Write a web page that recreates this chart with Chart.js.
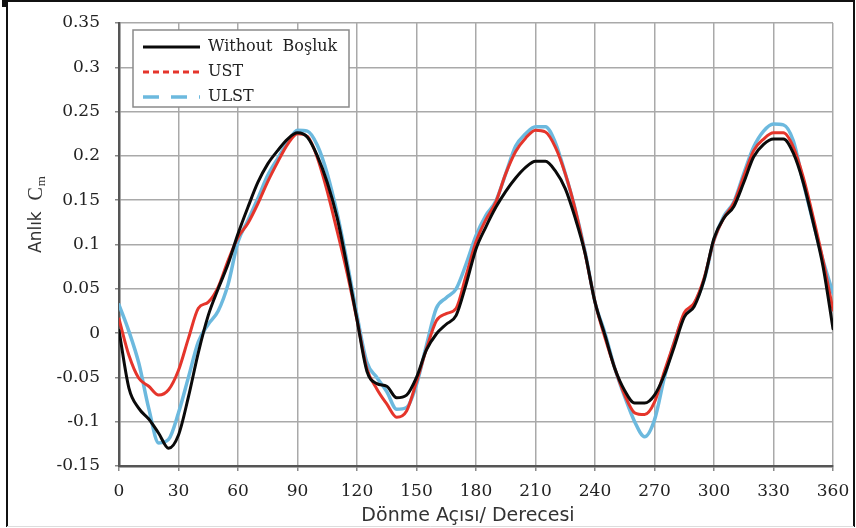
<!DOCTYPE html>
<html>
<head>
<meta charset="utf-8">
<script src="https://cdn.jsdelivr.net/npm/chart.js@4/dist/chart.umd.min.js"></script>
<style>
html,body{margin:0;padding:0;background:#fff;}
#wrap{position:relative;width:856px;height:528px;}
</style>
</head>
<body>
<div id="wrap"><canvas id="c" width="856" height="528"></canvas></div>
<script>
const angles = [0,5,10,15,20,25,30,35,40,45,50,55,60,65,70,75,80,85,90,95,100,105,110,115,120,125,130,135,140,145,150,155,160,165,170,175,180,185,190,195,200,205,210,215,220,225,230,235,240,245,250,255,260,265,270,275,280,285,290,295,300,305,310,315,320,325,330,335,340,345,350,355,360];

const withoutBosluk = [0.003,-0.062,-0.085,-0.097,-0.113,-0.130,-0.115,-0.072,-0.022,0.020,0.050,0.078,0.112,0.142,0.170,0.191,0.206,0.219,0.226,0.221,0.200,0.170,0.130,0.075,0.015,-0.043,-0.057,-0.060,-0.073,-0.070,-0.050,-0.019,-0.001,0.010,0.020,0.055,0.095,0.120,0.142,0.160,0.175,0.187,0.194,0.194,0.183,0.163,0.130,0.090,0.035,-0.002,-0.040,-0.065,-0.079,-0.079,-0.070,-0.047,-0.015,0.018,0.030,0.060,0.107,0.130,0.143,0.170,0.199,0.213,0.219,0.219,0.203,0.170,0.125,0.075,0.005];

const ust = [0.016,-0.025,-0.051,-0.060,-0.070,-0.064,-0.042,-0.006,0.028,0.035,0.052,0.082,0.108,0.124,0.146,0.171,0.193,0.213,0.225,0.222,0.198,0.160,0.115,0.068,0.015,-0.040,-0.063,-0.080,-0.095,-0.088,-0.055,-0.018,0.014,0.022,0.028,0.065,0.103,0.128,0.148,0.180,0.205,0.220,0.229,0.227,0.210,0.180,0.140,0.090,0.035,-0.005,-0.040,-0.070,-0.090,-0.092,-0.078,-0.043,-0.010,0.023,0.034,0.062,0.105,0.130,0.147,0.177,0.206,0.219,0.226,0.226,0.210,0.176,0.131,0.082,0.026];

const ulst = [0.032,0.002,-0.034,-0.085,-0.124,-0.120,-0.090,-0.050,-0.010,0.010,0.025,0.055,0.103,0.127,0.152,0.178,0.197,0.215,0.229,0.228,0.212,0.180,0.135,0.080,0.020,-0.033,-0.050,-0.066,-0.086,-0.084,-0.058,-0.014,0.028,0.040,0.050,0.078,0.110,0.133,0.149,0.180,0.211,0.225,0.233,0.233,0.215,0.180,0.140,0.092,0.035,0.000,-0.040,-0.072,-0.100,-0.117,-0.098,-0.050,-0.010,0.020,0.033,0.060,0.105,0.132,0.148,0.180,0.210,0.228,0.236,0.235,0.217,0.170,0.125,0.082,0.045];

const seriesLabels = ["Without  Boşluk","UST","ULST"];
const yTickValues = [-0.15,-0.1,-0.05,0,0.05,0.1,0.15,0.2,0.25,0.3,0.35];
const yTickLabels = ["-0.15","-0.1","-0.05","0","0.05","0.1","0.15","0.2","0.25","0.3","0.35"];
const xTickLabels = ["0","30","60","90","120","150","180","210","240","270","300","330","360"];
const xTitle = "Dönme Açısı/ Derecesi";
const yTitleMain = "Anlık  ";
const yTitleC = "C";
const yTitleSub = "m";

function pts(arr){ return angles.map((a,i)=>({x:a,y:arr[i]})); }

const legendDash = [[], [6,4], [16,12]];

const framePlugin = {
  id:'frame',
  beforeDraw(chart){
    const ctx = chart.ctx;
    ctx.save();
    ctx.fillStyle = '#fff';
    ctx.fillRect(0,0,856,528);
    ctx.restore();
  },
  afterDraw(chart){
    const ctx = chart.ctx;
    ctx.save();
    ctx.strokeStyle = '#111';
    ctx.lineWidth = 2;
    ctx.beginPath();
    ctx.moveTo(7,527); ctx.lineTo(7,1); ctx.lineTo(854,1); ctx.lineTo(854,527);
    ctx.stroke();
    ctx.strokeStyle = '#ddd';
    ctx.lineWidth = 1;
    ctx.beginPath(); ctx.moveTo(7,526.5); ctx.lineTo(854,526.5); ctx.stroke();
    ctx.fillStyle = '#111';
    ctx.fillRect(2,0,6,7);

    // x title
    ctx.fillStyle = '#333';
    ctx.font = '19px "DejaVu Sans", sans-serif';
    ctx.textAlign = 'center';
    ctx.textBaseline = 'middle';
    ctx.fillText(xTitle, 468, 516);

    // y title with subscript
    ctx.translate(37, 215);
    ctx.rotate(-Math.PI/2);
    ctx.fillStyle = '#333';
    ctx.textBaseline = 'middle';
    ctx.font = '17px "DejaVu Sans", sans-serif';
    const w1 = ctx.measureText(yTitleMain).width;
    ctx.font = '20px "Liberation Serif", serif';
    const wC = ctx.measureText(yTitleC).width;
    ctx.font = '13px "Liberation Serif", serif';
    const wm = ctx.measureText(yTitleSub).width;
    const total = w1 + wC + wm;
    let x0 = -total/2;
    ctx.textAlign = 'left';
    ctx.font = '17px "DejaVu Sans", sans-serif';
    ctx.fillText(yTitleMain, x0, 0);
    ctx.font = '20px "Liberation Serif", serif';
    ctx.fillText(yTitleC, x0 + w1, 0);
    ctx.font = '13px "Liberation Serif", serif';
    ctx.fillText(yTitleSub, x0 + w1 + wC + 1, 5);
    ctx.restore();

    // legend
    ctx.save();
    ctx.fillStyle = '#fff';
    ctx.fillRect(133,30,216,77);
    ctx.strokeStyle = '#8a8a8a';
    ctx.lineWidth = 1.5;
    ctx.strokeRect(133,30,216,77);
    const ys = [47,72,97];
    chart.data.datasets.forEach((ds,i)=>{
      ctx.strokeStyle = ds.borderColor;
      ctx.lineWidth = ds.borderWidth;
      ctx.setLineDash(legendDash[i]);
      ctx.beginPath(); ctx.moveTo(143,ys[i]); ctx.lineTo(200,ys[i]); ctx.stroke();
      ctx.setLineDash([]);
      ctx.fillStyle = '#222';
      ctx.font = '16px "DejaVu Serif", serif';
      ctx.textBaseline = 'middle';
      ctx.textAlign = 'left';
      ctx.fillText(ds.label, 208, ys[i]);
    });
    ctx.restore();
  }
};

new Chart(document.getElementById('c'), {
  type:'line',
  data:{
    datasets:[
      {label:seriesLabels[0], data:pts(withoutBosluk), borderColor:'#0a0a0a', borderWidth:3, order:0},
      {label:seriesLabels[1], data:pts(ust), borderColor:'#e5352b', borderWidth:3, order:1},
      {label:seriesLabels[2], data:pts(ulst), borderColor:'#6cb9de', borderWidth:3.5, order:2}
    ]
  },
  options:{
    responsive:false,
    animation:false,
    events:[],
    layout:{padding:{left:0,right:23,top:23,bottom:0}},
    elements:{
      point:{radius:0},
      line:{cubicInterpolationMode:'monotone', fill:false, borderCapStyle:'round', borderJoinStyle:'round'}
    },
    plugins:{legend:{display:false}, tooltip:{enabled:false}},
    scales:{
      x:{
        type:'linear', min:0, max:360,
        afterBuildTicks(axis){ axis.ticks = xTickLabels.map(v=>({value:Number(v)})); },
        afterFit(axis){ axis.height = 62; axis.paddingRight = 0; axis.paddingLeft = 0; },
        grid:{color:'#a9a9a9', lineWidth:1.5, tickLength:5, tickColor:'#888'},
        border:{color:'#555', width:2.5},
        ticks:{
          color:'#222', padding:10, maxRotation:0,
          font:{family:'"DejaVu Serif", serif', size:17},
          callback:(v,i)=>xTickLabels[i]
        },
        title:{display:false}
      },
      y:{
        type:'linear', min:-0.15, max:0.35,
        afterBuildTicks(axis){ axis.ticks = yTickValues.map(v=>({value:v})); },
        afterFit(axis){ axis.width = 119; axis.paddingTop = 0; axis.paddingBottom = 0; },
        grid:{color:'#a9a9a9', lineWidth:1.5, tickLength:4, tickColor:'#888'},
        border:{color:'#555', width:2.5},
        ticks:{
          color:'#222', padding:15,
          font:{family:'"DejaVu Serif", serif', size:17},
          callback:(v,i)=>yTickLabels[i]
        }
      }
    }
  },
  plugins:[framePlugin]
});
</script>
</body>
</html>
